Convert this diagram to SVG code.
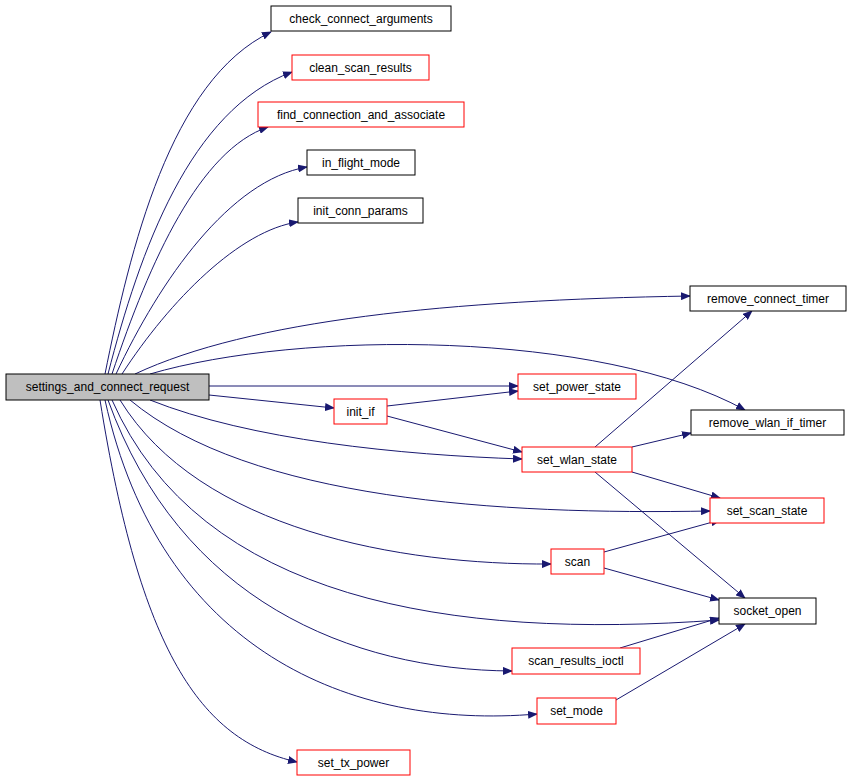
<svg xmlns="http://www.w3.org/2000/svg" width="851" height="779" viewBox="0 0 851 779">
<defs><marker id="a" markerWidth="10" markerHeight="8" refX="9" refY="4" orient="auto" markerUnits="userSpaceOnUse"><path d="M0,0 L10,4 L0,8 z" fill="#191970"/></marker>
<style>
.e path{fill:none;stroke:#191970;stroke-width:1;marker-end:url(#a)}
.n rect{fill:#fff;stroke:#000}
.r rect{stroke:#f00}
text{font-family:"Liberation Sans",Arial,sans-serif;font-size:12px;text-anchor:middle}
</style></defs>
<rect width="851" height="779" fill="#fff"/>
<g class="e">
<path d="M105,374 C130,250 170,80 271,32"/>
<path d="M108,374 C140,250 190,110 292,72"/>
<path d="M112,374 C150,260 200,150 268,127"/>
<path d="M116,374 C160,280 230,180 307,167"/>
<path d="M122,374 C170,300 240,230 298,222"/>
<path d="M135,374 C250,320 450,300 690,296"/>
<path d="M150,374 C300,330 600,330 745,410"/>
<path d="M209,386 L518,386"/>
<path d="M209,395 L334,408"/>
<path d="M387,406 L518,391"/>
<path d="M387,416 L522,452"/>
<path d="M150,400 C250,440 400,455 522,459"/>
<path d="M130,400 C250,500 500,515 710,511"/>
<path d="M120,400 C200,530 400,565 551,564"/>
<path d="M112,400 C200,600 450,640 719,620"/>
<path d="M108,400 C180,600 350,670 512,671"/>
<path d="M105,400 C160,650 350,730 537,714"/>
<path d="M100,400 C140,650 200,740 297,762"/>
<path d="M595,447 L752,311"/>
<path d="M632,447 L691,433"/>
<path d="M632,472 L720,498"/>
<path d="M595,472 L745,598"/>
<path d="M604,552 L720,520"/>
<path d="M604,568 L719,600"/>
<path d="M620,648 L719,618"/>
<path d="M616,700 L745,624"/>
</g>
<g id="main" class="n"><rect x="6" y="374" width="203" height="26" style="fill:#bfbfbf"/><text x="107.5" y="391">settings_and_connect_request</text></g>
<g id="n1" class="n"><rect x="271" y="6" width="180" height="25"/><text x="361" y="23">check_connect_arguments</text></g>
<g id="n2" class="n r"><rect x="292" y="55" width="137" height="25"/><text x="360.5" y="72">clean_scan_results</text></g>
<g id="n3" class="n r"><rect x="258" y="102" width="206" height="25"/><text x="361" y="119">find_connection_and_associate</text></g>
<g id="n4" class="n"><rect x="307" y="150" width="108" height="25"/><text x="361" y="167">in_flight_mode</text></g>
<g id="n5" class="n"><rect x="298" y="198" width="125" height="25"/><text x="360.5" y="215">init_conn_params</text></g>
<g id="n6" class="n"><rect x="690" y="286" width="156" height="25"/><text x="768" y="303">remove_connect_timer</text></g>
<g id="n7" class="n r"><rect x="518" y="374" width="118" height="25"/><text x="577" y="391">set_power_state</text></g>
<g id="n8" class="n r"><rect x="334" y="399" width="53" height="25"/><text x="360.5" y="416">init_if</text></g>
<g id="n9" class="n"><rect x="691" y="410" width="153" height="25"/><text x="767.5" y="427">remove_wlan_if_timer</text></g>
<g id="n10" class="n r"><rect x="522" y="447" width="110" height="25"/><text x="577" y="464">set_wlan_state</text></g>
<g id="n11" class="n r"><rect x="710" y="498" width="114" height="25"/><text x="767" y="515">set_scan_state</text></g>
<g id="n12" class="n r"><rect x="551" y="549" width="53" height="25"/><text x="577.5" y="566">scan</text></g>
<g id="n13" class="n"><rect x="719" y="598" width="97" height="26"/><text x="767.5" y="615">socket_open</text></g>
<g id="n14" class="n r"><rect x="512" y="648" width="128" height="26"/><text x="576" y="665">scan_results_ioctl</text></g>
<g id="n15" class="n r"><rect x="537" y="698" width="79" height="26"/><text x="576.5" y="715">set_mode</text></g>
<g id="n16" class="n r"><rect x="297" y="750" width="113" height="25"/><text x="353.5" y="767">set_tx_power</text></g>
</svg>
